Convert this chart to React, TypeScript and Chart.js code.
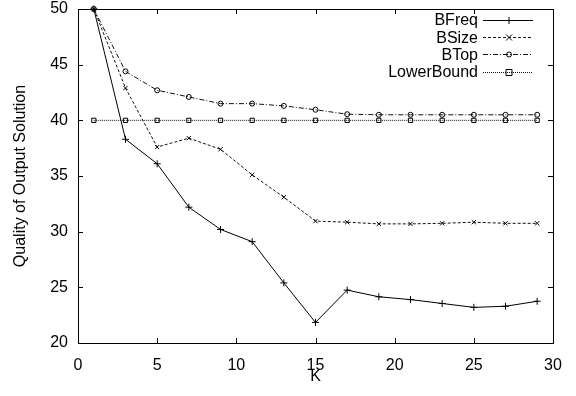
import React, { useEffect, useRef } from "react";
import { Chart, registerables } from "chart.js";

Chart.register(...registerables);

const kValues = [1, 3, 5, 7, 9, 11, 13, 15, 17, 19, 21, 23, 25, 27, 29];
const bFreq = [50, 38.3, 36.1, 32.2, 30.2, 29.1, 25.4, 21.85, 24.75, 24.15, 23.9, 23.55, 23.2, 23.3, 23.75];
const bSize = [50, 42.9, 37.6, 38.4, 37.4, 35.1, 33.1, 30.95, 30.85, 30.7, 30.7, 30.75, 30.85, 30.75, 30.75];
const bTop = [50, 44.4, 42.7, 42.1, 41.5, 41.5, 41.3, 40.95, 40.55, 40.5, 40.5, 40.5, 40.5, 40.5, 40.5];
const lowerBound = [40, 40, 40, 40, 40, 40, 40, 40, 40, 40, 40, 40, 40, 40, 40];
const seriesLabels = ["BFreq", "BSize", "BTop", "LowerBound"];
const xTickValues = [0, 5, 10, 15, 20, 25, 30];
const yTickValues = [20, 25, 30, 35, 40, 45, 50];

const FONT = "'Liberation Sans', Arial, Helvetica, sans-serif";

function drawMarker(ctx: CanvasRenderingContext2D, style: string, x: number, y: number) {
  ctx.save();
  ctx.setLineDash([]);
  ctx.lineWidth = 1;
  ctx.strokeStyle = "#000";
  ctx.beginPath();
  if (style === "cross") {
    ctx.moveTo(x - 3.5, y);
    ctx.lineTo(x + 3.5, y);
    ctx.moveTo(x, y - 3.5);
    ctx.lineTo(x, y + 3.5);
  } else if (style === "crossRot") {
    ctx.moveTo(x - 3, y - 3);
    ctx.lineTo(x + 3, y + 3);
    ctx.moveTo(x - 3, y + 3);
    ctx.lineTo(x + 3, y - 3);
  } else if (style === "circle") {
    ctx.arc(x, y, 2.5, 0, Math.PI * 2);
  } else if (style === "rect") {
    ctx.rect(x - 3, y - 3, 6, 6);
  }
  ctx.stroke();
  ctx.restore();
}

const framePlugin = {
  id: "gnuFrame",
  afterDraw(chart: any) {
    const ctx: CanvasRenderingContext2D = chart.ctx;
    const { left, right, top, bottom } = chart.chartArea;
    const xs = chart.scales.x;
    const ys = chart.scales.y;
    ctx.save();
    ctx.strokeStyle = "#000";
    ctx.lineWidth = 1;
    ctx.setLineDash([]);
    ctx.strokeRect(Math.round(left) + 0.5, Math.round(top) + 0.5, Math.round(right - left), Math.round(bottom - top));
    const tl = 5;
    ctx.beginPath();
    xTickValues.forEach((v) => {
      const px = Math.round(xs.getPixelForValue(v)) + 0.5;
      ctx.moveTo(px, bottom);
      ctx.lineTo(px, bottom - tl);
      ctx.moveTo(px, top);
      ctx.lineTo(px, top + tl);
    });
    yTickValues.forEach((v) => {
      const py = Math.round(ys.getPixelForValue(v)) + 0.5;
      ctx.moveTo(left, py);
      ctx.lineTo(left + tl, py);
      ctx.moveTo(right, py);
      ctx.lineTo(right - tl, py);
    });
    ctx.stroke();

    // legend
    const styles = ["cross", "crossRot", "circle", "rect"];
    ctx.font = `16px ${FONT}`;
    ctx.fillStyle = "#000";
    ctx.textAlign = "right";
    ctx.textBaseline = "middle";
    chart.data.datasets.forEach((ds: any, i: number) => {
      const y = 20 + i * 17.2;
      ctx.fillText(ds.label, 478, y + 1);
      ctx.save();
      ctx.strokeStyle = ds.borderColor;
      ctx.lineWidth = 1;
      ctx.setLineDash(ds.borderDash || []);
      ctx.beginPath();
      ctx.moveTo(483, Math.round(y) + 0.5);
      ctx.lineTo(533, Math.round(y) + 0.5);
      ctx.stroke();
      ctx.restore();
      drawMarker(ctx, styles[i], 509, Math.round(y) + 0.5);
    });
    ctx.restore();
  },
};

export default function App() {
  const ref = useRef<HTMLCanvasElement | null>(null);
  useEffect(() => {
    document.body.style.margin = "0";
    const mk = (label: string, data: number[], dash: number[], pointStyle: string, color: string) => ({
      label,
      data: kValues.map((k, i) => ({ x: k, y: data[i] })),
      borderColor: color,
      backgroundColor: "rgba(0,0,0,0)",
      borderWidth: 1,
      borderDash: dash,
      pointStyle,
      pointRadius: pointStyle === "cross" ? 3.5 : pointStyle === "circle" ? 2.5 : 3,
      pointBorderWidth: 1,
      pointBorderColor: "#000",
      pointBackgroundColor: "rgba(0,0,0,0)",
      tension: 0,
      fill: false,
      clip: false as any,
    });
    const chart = new Chart(ref.current as HTMLCanvasElement, {
      type: "line",
      data: {
        datasets: [
          mk(seriesLabels[0], bFreq, [], "cross", "#000"),
          mk(seriesLabels[1], bSize, [3, 2], "crossRot", "#111"),
          mk(seriesLabels[2], bTop, [5, 2, 1, 2], "circle", "#111"),
          mk(seriesLabels[3], lowerBound, [1, 1], "rect", "#111"),
        ] as any,
      },
      plugins: [framePlugin],
      options: {
        animation: false,
        responsive: false,
        maintainAspectRatio: false,
        layout: { padding: { left: 0, right: 23, top: 9, bottom: 0 } },
        plugins: { legend: { display: false }, tooltip: { enabled: false } },
        scales: {
          x: {
            type: "linear",
            min: 0,
            max: 30,
            afterFit: (s: any) => {
              s.height = 53;
              s.paddingLeft = 0;
              s.paddingRight = 0;
            },
            afterBuildTicks: (s: any) => {
              s.ticks = xTickValues.map((v) => ({ value: v }));
            },
            grid: { display: false, drawTicks: false },
            border: { display: false },
            ticks: { color: "#000", font: { family: FONT, size: 16 }, padding: 13, maxRotation: 0 },
            title: { display: true, text: "K", color: "#000", font: { family: FONT, size: 16 }, padding: { top: 0, bottom: 10 } },
          },
          y: {
            type: "linear",
            min: 20,
            max: 50,
            afterFit: (s: any) => {
              s.width = 78;
              s.paddingTop = 0;
              s.paddingBottom = 0;
            },
            afterBuildTicks: (s: any) => {
              s.ticks = yTickValues.map((v) => ({ value: v }));
            },
            grid: { display: false, drawTicks: false },
            border: { display: false },
            ticks: { color: "#000", font: { family: FONT, size: 16 }, padding: 10 },
            title: {
              display: true,
              text: "Quality of Output Solution",
              color: "#000",
              font: { family: FONT, size: 16 },
              padding: { top: 11, bottom: 0 },
            },
          },
        },
      } as any,
    });
    return () => chart.destroy();
  }, []);
  return (
    <div style={{ width: 576, height: 396, background: "#fff" }}>
      <canvas ref={ref} width={576} height={396} style={{ display: "block" }} />
    </div>
  );
}
